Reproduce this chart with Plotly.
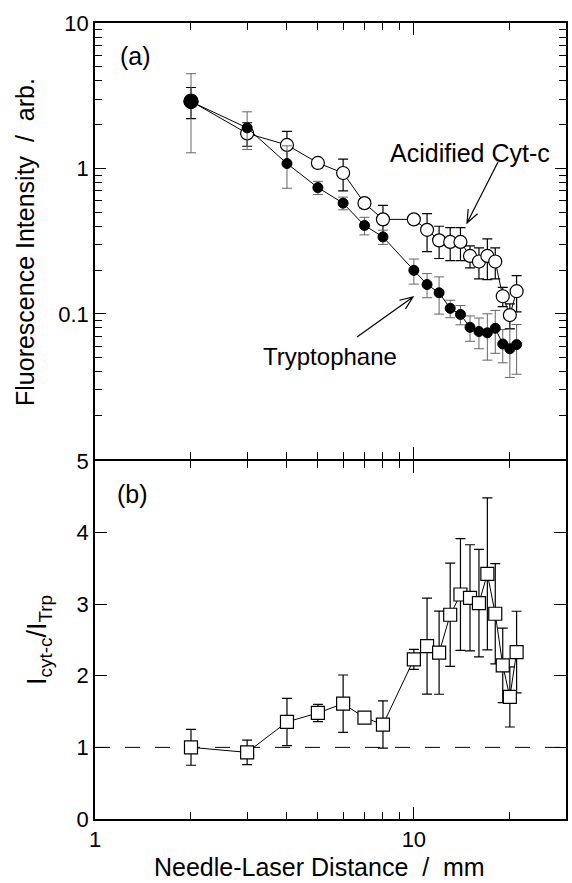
import math
import plotly.graph_objects as go

# ---------------- data ----------------
distance = [2, 3, 4, 5, 6, 7, 8, 10, 11, 12, 13, 14, 15, 16, 17, 18, 19, 20, 21]

cytc = [2.9, 1.74, 1.45, 1.09, 0.93, 0.577, 0.446, 0.446, 0.378, 0.32, 0.312, 0.312,
        0.25, 0.229, 0.25, 0.229, 0.132, 0.098, 0.143]
cytc_err = [0.7, 0.32, 0.35, 0.08, 0.23, 0.04, 0.11, 0.02, 0.11, 0.08, 0.08, 0.08,
            0.043, 0.055, 0.078, 0.055, 0.02, 0.019, 0.04]

trp = [2.88, 1.9, 1.08, 0.738, 0.577, 0.405, 0.338, 0.199, 0.159, 0.1395, 0.109, 0.099,
       0.0807, 0.0755, 0.074, 0.0795, 0.062, 0.0575, 0.0614]
trp_err = [1.6, 0.55, 0.35, 0.077, 0.058, 0.056, 0.038, 0.039, 0.03, 0.04, 0.015, 0.015,
           0.016, 0.018, 0.026, 0.026, 0.016, 0.021, 0.023]

ratio = [1.0, 0.93, 1.355, 1.48, 1.61, 1.416, 1.318, 2.228, 2.414, 2.321, 2.851, 3.134,
         3.088, 3.013, 3.422, 2.865, 2.145, 1.704, 2.33]
ratio_err = [0.25, 0.17, 0.33, 0.12, 0.4, 0.0, 0.33, 0.14, 0.67, 0.58, 0.72, 0.78,
             0.74, 0.75, 1.06, 0.7, 0.52, 0.42, 0.57]

x_major = [1, 10]
x_labels = ["1", "10"]
x_minor = [2, 3, 4, 5, 6, 7, 8, 9, 20]
y_top_major = [0.1, 1, 10]
y_top_labels = ["0.1", "1", "10"]
y_top_minor = [m * d for d in (0.01, 0.1, 1) for m in range(2, 10)]
y_bot_ticks = [0, 1, 2, 3, 4, 5]

FONT = "Liberation Sans, Arial, sans-serif"
W, H = 572, 883
ML, MR, MT, MB = 95, 6, 23, 64
PW, PH = W - ML - MR, H - MT - MB


def px2paper(px, py):
    return (px - ML) / PW, (H - MB - py) / PH


def arrow_path(tail, tip, head_len=14, half_angle=22):
    tx, ty = tail
    hx, hy = tip
    ang = math.atan2(ty - hy, tx - hx)
    pts = []
    for s in (-1, 1):
        a = ang + s * math.radians(half_angle)
        pts.append((hx + head_len * math.cos(a), hy + head_len * math.sin(a)))
    p = lambda q: "%.5f,%.5f" % px2paper(*q)
    return "M%s L%s M%s L%s L%s" % (p(tail), p(tip), p(pts[0]), p(tip), p(pts[1]))


def label(text, px, py, size=25, angle=0):
    x, y = px2paper(px, py)
    return dict(text=text, xref="paper", yref="paper", x=x, y=y, xanchor="center",
                yanchor="middle", showarrow=False, textangle=angle,
                font=dict(family=FONT, size=size, color="black"))


fig = go.Figure()

# Acidified Cyt-c (open circles)
fig.add_trace(go.Scatter(
    x=distance, y=cytc, mode="lines+markers", xaxis="x", yaxis="y",
    line=dict(color="black", width=1),
    marker=dict(symbol="circle", size=[14] + [13] * (len(distance) - 1), color="white",
                opacity=1, line=dict(color="black", width=1.2)),
    error_y=dict(type="data", array=cytc_err, color="black", thickness=1.2, width=5),
    showlegend=False))

# Tryptophane (filled circles)
fig.add_trace(go.Scatter(
    x=distance, y=trp, mode="lines+markers", xaxis="x", yaxis="y",
    line=dict(color="black", width=1),
    marker=dict(symbol="circle", size=[14] + [10] * (len(distance) - 1), color="black",
                opacity=1, line=dict(color="black", width=1)),
    error_y=dict(type="data", array=trp_err, color="#666666", thickness=1, width=5),
    showlegend=False))

# Ratio (open squares)
fig.add_trace(go.Scatter(
    x=distance, y=ratio, mode="lines+markers", xaxis="x2", yaxis="y2",
    line=dict(color="black", width=1),
    marker=dict(symbol="square", size=13, color="white", opacity=1,
                line=dict(color="black", width=1.2)),
    error_y=dict(type="data", array=ratio_err, color="black", thickness=1.2, width=5),
    showlegend=False))

axis_common = dict(showline=True, linecolor="black", linewidth=1.5, mirror="ticks",
                   ticks="inside", tickcolor="black", showgrid=False, zeroline=False,
                   automargin=False,
                   tickfont=dict(family=FONT, size=22, color="black"))

xr = [0, math.log10(30)]
minor_x = dict(tickvals=x_minor, ticks="inside", ticklen=7, tickcolor="black", tickwidth=1)

fig.update_layout(
    width=W, height=H,
    margin=dict(l=ML, r=MR, t=MT, b=MB, autoexpand=False),
    paper_bgcolor="white", plot_bgcolor="white",
    font=dict(family=FONT, size=22, color="black"),
    xaxis=dict(type="log", range=xr, domain=[0, 1], anchor="y",
               tickvals=x_major, ticklen=12, tickwidth=1.2, showticklabels=False,
               minor=minor_x, **axis_common),
    xaxis2=dict(type="log", range=xr, domain=[0, 1], anchor="y2", matches="x",
                tickvals=x_major, ticktext=x_labels, ticklen=12, tickwidth=1.2,
                minor=minor_x, **axis_common),
    yaxis=dict(type="log", range=[-2, 1], domain=[0.452, 1], anchor="x",
               tickvals=y_top_major, ticktext=y_top_labels, ticklen=11, tickwidth=1.2,
               minor=dict(tickvals=y_top_minor, ticks="inside", ticklen=7,
                          tickcolor="black", tickwidth=1),
               **axis_common),
    yaxis2=dict(range=[0, 5], domain=[0, 0.450], anchor="x2",
                tickvals=y_bot_ticks, ticklen=12, tickwidth=1.2,
                **axis_common),
    shapes=[
        dict(type="line", xref="x2 domain", x0=0, x1=1, yref="y2", y0=1, y1=1,
             line=dict(color="black", width=1, dash="longdash"), layer="below"),
        dict(type="path", xref="paper", yref="paper",
             path=arrow_path((498, 162), (467, 223)),
             line=dict(color="black", width=1.2)),
        dict(type="path", xref="paper", yref="paper",
             path=arrow_path((357, 337), (413, 297)),
             line=dict(color="black", width=1.2)),
    ],
    annotations=[
        label("(a)", 135, 56, 25),
        label("(b)", 132, 494, 25),
        label("Acidified Cyt-c", 470, 153, 25),
        label("Tryptophane", 330, 356, 24),
        label("Needle-Laser Distance \u00a0/\u00a0 mm", 319, 867, 25),
        label("Fluorescence Intensity \u00a0/\u00a0 arb.", 25, 242, 25, -90),
        label("I<sub>cyt-c</sub>/I<sub>Trp</sub>", 39, 640, 27, -90),
    ],
)

fig.write_html("out.html",
               config={"displayModeBar": False},
               post_script="document.body.style.margin='0';"
                           "document.body.style.overflow='hidden';")
